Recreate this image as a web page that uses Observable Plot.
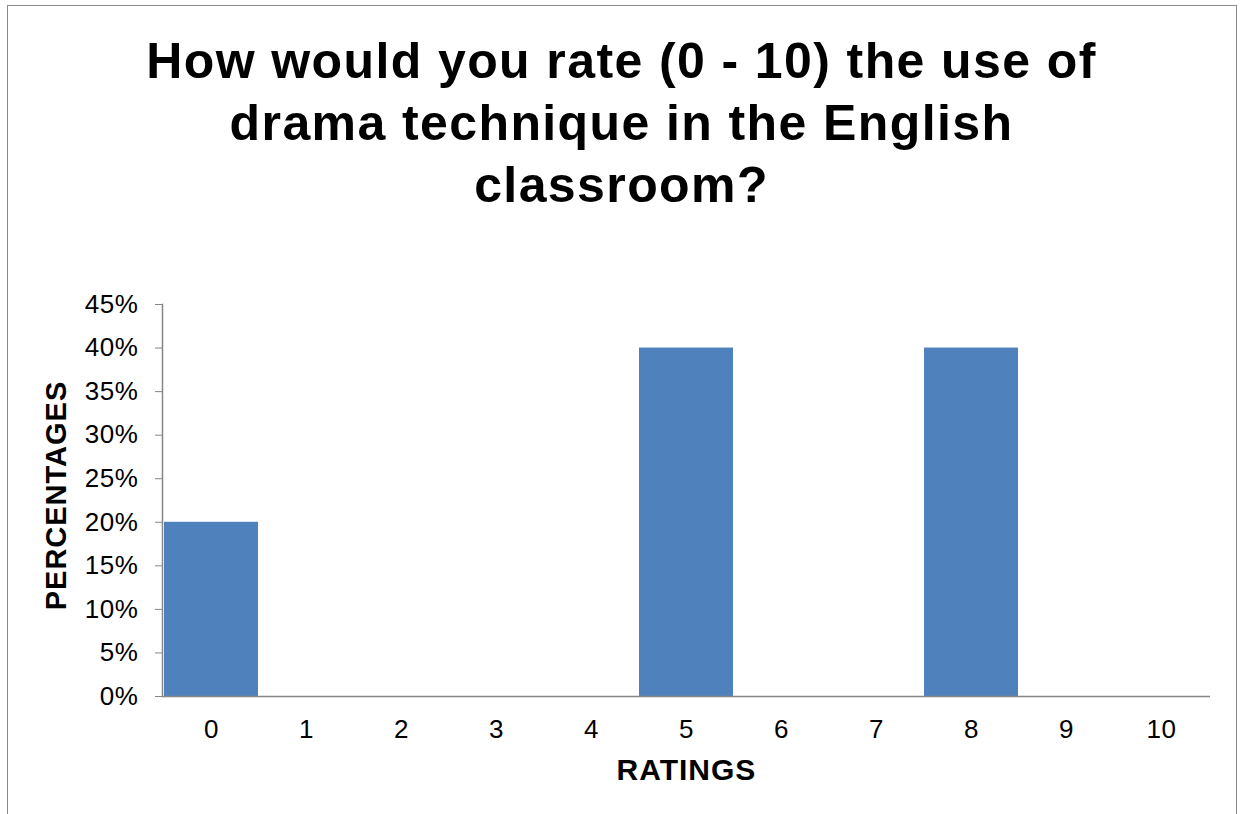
<!DOCTYPE html>
<html>
<head>
<meta charset="utf-8">
<script src="https://cdn.jsdelivr.net/npm/d3@7"></script>
<script src="https://cdn.jsdelivr.net/npm/@observablehq/plot@0.6"></script>
<style>
  html, body { margin: 0; padding: 0; background: #fff; }
  #wrap { position: relative; width: 1243px; height: 814px; overflow: hidden; font-family: "Liberation Sans", Arial, sans-serif; }
  #border { position: absolute; left: 7px; top: 5px; width: 1230px; height: 900px; border: 1.5px solid #8a8a8a; box-sizing: border-box; }
  #title { position: absolute; left: 0; top: 30px; width: 1243px; text-align: center; font-weight: bold; font-size: 50px; letter-spacing: 1.4px; line-height: 62px; color: #000; }
  #chart { position: absolute; left: 0; top: 0; }
</style>
</head>
<body>
<div id="wrap">
  <div id="border"></div>
  <div id="chart"></div>
  <div id="title">How would you rate (0 - 10) the use of<br>drama technique in the English<br>classroom?</div>
</div>
<script>
const ratings = ["0", "1", "2", "3", "4", "5", "6", "7", "8", "9", "10"];
const percentages = [20, 0, 0, 0, 0, 40, 0, 0, 40, 0, 0];
const yTicks = [0, 5, 10, 15, 20, 25, 30, 35, 40, 45];
const xTitle = "RATINGS";
const yTitle = "PERCENTAGES";

const data = ratings.map((r, i) => ({rating: r, pct: percentages[i]}));

const chart = Plot.plot({
  width: 1243,
  height: 814,
  marginLeft: 162,
  marginRight: 33,
  marginTop: 304,
  marginBottom: 118,
  style: {fontFamily: "'Liberation Sans', Arial, sans-serif", background: "transparent", color: "#000"},
  x: {type: "band", domain: ratings, paddingInner: 0.015, paddingOuter: 0.008},
  y: {domain: [0, 45]},
  marks: [
    Plot.barY(data, {x: "rating", y: "pct", fill: "#4F81BD"}),
    Plot.axisY({ticks: yTicks, tickFormat: d => d + "%", tickSize: 7, tickPadding: 17, fontSize: 26, stroke: "#868686", strokeOpacity: 1, label: yTitle, labelAnchor: "center", labelArrow: "none", labelOffset: 117}),
    Plot.axisX({tickSize: 0, tickPadding: 23, fontSize: 26, label: xTitle, labelAnchor: "center", labelArrow: "none", labelOffset: 83}),
    Plot.frame({anchor: "left", stroke: "#868686", strokeWidth: 1.5}),
    Plot.ruleY([0], {stroke: "#868686", strokeWidth: 1.5})
  ]
});
chart.querySelectorAll("g[aria-label='y-axis tick label'] text, g[aria-label='x-axis tick label'] text").forEach(t => {
  t.style.letterSpacing = "0.6px";
});
chart.querySelectorAll("g[aria-label='x-axis label'] text").forEach(t => {
  t.style.fontWeight = "bold";
  t.style.fontSize = "30px";
  t.style.letterSpacing = "1px";
});
chart.querySelectorAll("g[aria-label='y-axis label'] text").forEach(t => {
  t.style.fontWeight = "bold";
  t.style.fontSize = "29px";
  t.style.letterSpacing = "1px";
  t.setAttribute("dx", "5");
});
document.getElementById("chart").appendChild(chart);
</script>
</body>
</html>
